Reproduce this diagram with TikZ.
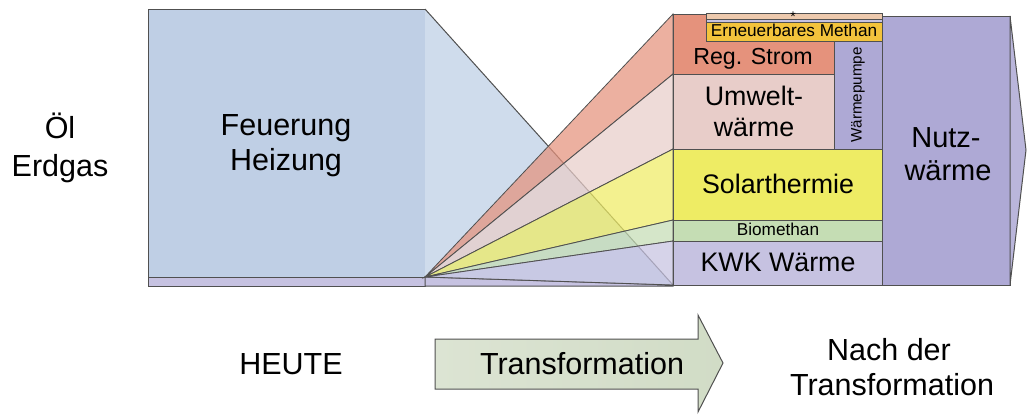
\documentclass[tikz,border=0pt]{standalone}
\usepackage{fontspec}
\setmainfont{Liberation Sans}
\definecolor{heizblau}{HTML}{BFCFE5}
\definecolor{seitenblau}{HTML}{CFDCEC}
\definecolor{lila}{HTML}{AEA9D5}
\definecolor{lilahell}{HTML}{C6C2E1}
\definecolor{strom}{HTML}{E5927C}
\definecolor{umwelt}{HTML}{E8CDC9}
\definecolor{solar}{HTML}{EEEC64}
\definecolor{bio}{HTML}{C5DDB4}
\definecolor{methan}{HTML}{F3C33C}
\definecolor{beige}{HTML}{EDC9AD}
\definecolor{pfeilhell}{HTML}{DCE4D3}
\definecolor{pfeilgruen}{HTML}{D1DCC6}
\definecolor{rand}{HTML}{505050}

\begin{document}
\begin{tikzpicture}[x=0.5pt, y=-0.5pt,
  box/.style={draw=rand, line width=0.5pt},
  fan/.style={draw=rand, line width=0.4pt, fill opacity=0.72},
  big/.style={font=\fontsize{15.25}{18}\selectfont, anchor=base},
  mid/.style={font=\fontsize{13.4}{16}\selectfont, anchor=base},
  small/.style={font=\fontsize{8.6}{10}\selectfont, anchor=base}]
  \useasboundingbox (0,0) rectangle (1028,414);
  \coordinate (apex) at (425,277);

  % Heute: Feuerung / Heizung
  \filldraw[box, fill=heizblau] (148,9) rectangle (425,277);
  \filldraw[box, fill=lilahell] (148,277) rectangle (425,286);
  \fill[seitenblau] (425,9) -- (673,285) -- (425,286) -- cycle;
  \draw[box] (425,9) -- (673,285);
  \filldraw[box, fill=lilahell] (apex) -- (673,285) -- (673,286) -- (425,286) -- cycle;

  % Faecher zur neuen Waermeversorgung
  \foreach \t/\b/\c in {14/74/strom, 74/149/umwelt, 149/220/solar, 220/241/bio, 241/285/lilahell}
    \filldraw[fan, fill=\c] (apex) -- (673,\t) -- (673,\b) -- cycle;

  % Nach der Transformation: Stapel
  \filldraw[box, fill=strom] (673,14) rectangle (834,74);
  \filldraw[box, fill=beige] (706,13) rectangle (882,19);
  \filldraw[box, fill=lilahell] (706,19) rectangle (882,22);
  \filldraw[box, fill=methan] (706,22) rectangle (882,41);
  \filldraw[box, fill=lila] (834,41) rectangle (882,149);
  \filldraw[box, fill=umwelt] (673,74) rectangle (834,149);
  \filldraw[box, fill=solar] (673,149) rectangle (882,220);
  \filldraw[box, fill=bio] (673,220) rectangle (882,241);
  \filldraw[box, fill=lilahell] (673,241) rectangle (882,285);
  \filldraw[box, fill=lila] (882,16) rectangle (1010,285);
  \filldraw[box, fill=lila!85!white] (1010,16) -- (1026,150) -- (1010,285) -- cycle;

  % Pfeil unten
  \draw[box, left color=pfeilhell, right color=pfeilgruen]
    (435,339) -- (698,339) -- (698,315) -- (723,363) -- (698,412) -- (698,389) -- (435,389) -- cycle;

  % Beschriftungen
  \node[big] (oel) at (60,138) {Öl};
  \node[big] (erdgas) at (60,176) {Erdgas};
  \node[big] (feuerung) at (286,135) {Feuerung};
  \node[big] (heizung) at (286,170) {Heizung};
  \node[font=\fontsize{7}{8}\selectfont, anchor=base, inner sep=0pt] (stern) at (793,21) {*};
  \node[small, inner ysep=1pt] (methantxt) at (794,36) {Erneuerbares Methan};
  \node[font=\fontsize{11.6}{14}\selectfont, anchor=base] (strom) at (753,64) {Reg. Strom};
  \node[font=\fontsize{7.6}{9}\selectfont, rotate=90] (pumpe) at (858,95) {Wärmepumpe};
  \node[mid] (umwelt) at (754,105) {Umwelt-};
  \node[mid] (umwelt2) at (754,136) {wärme};
  \node[mid] (solar) at (778,193) {Solarthermie};
  \node[small] (bio) at (778,235) {Biomethan};
  \node[mid] (kwk) at (778,271) {KWK Wärme};
  \node[font=\fontsize{14.5}{17}\selectfont, anchor=base] (nutz) at (946,147) {Nutz-};
  \node[font=\fontsize{14.5}{17}\selectfont, anchor=base] (nutz2) at (948,180) {wärme};
  \node[big] (heute) at (291,374) {HEUTE};
  \node[big] (trafo) at (582,374) {Transformation};
  \node[big] (nach) at (889,360) {Nach der};
  \node[big] (nach2) at (892,395) {Transformation};
\end{tikzpicture}
\end{document}
